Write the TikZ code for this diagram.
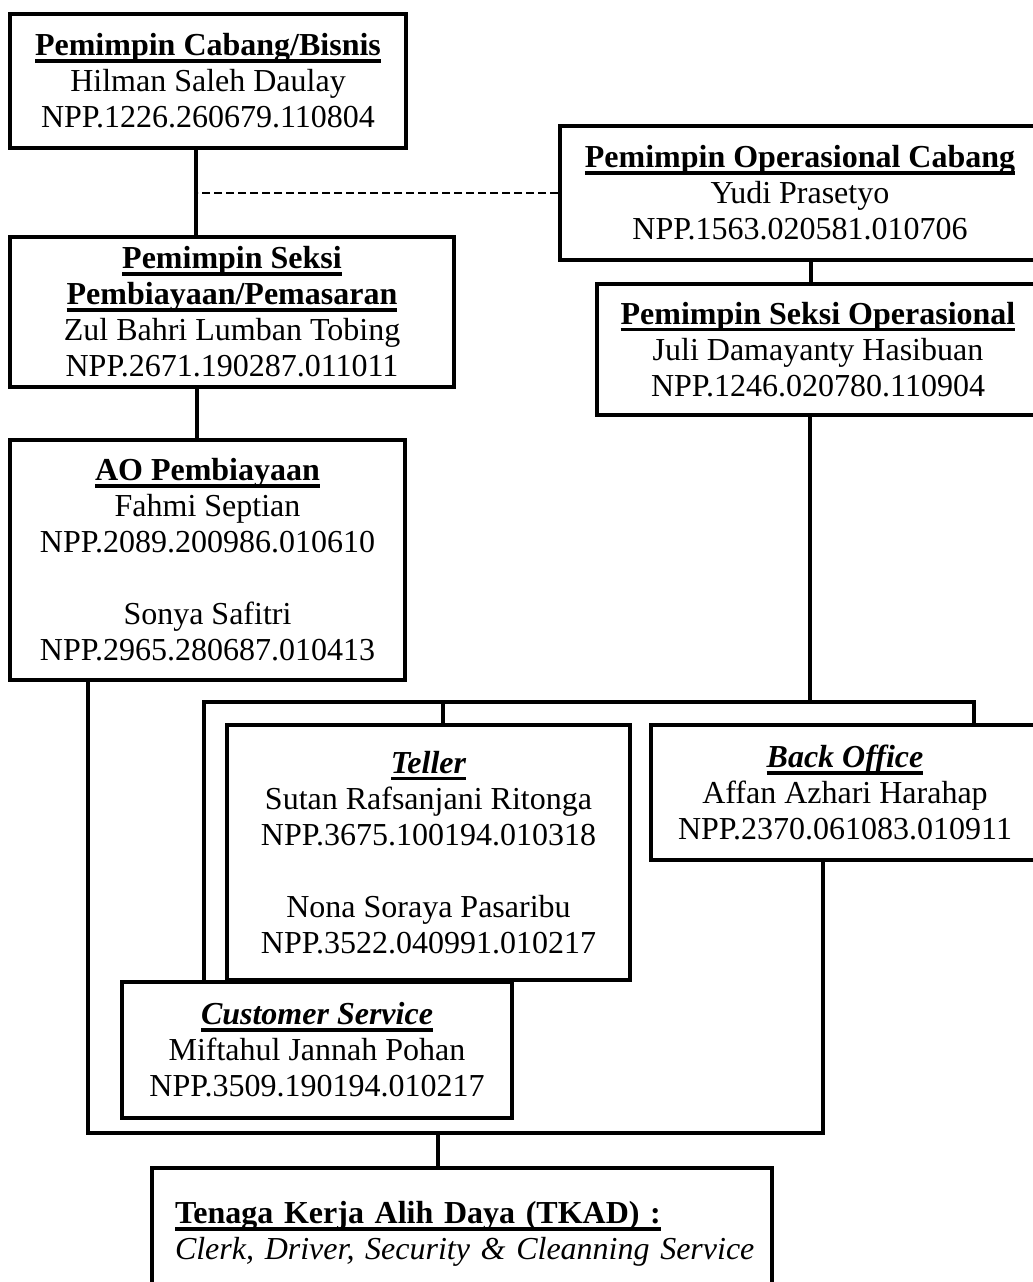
\documentclass[tikz,border=0pt]{standalone}
\usepackage{fontspec}
\setmainfont{Liberation Serif}
\usetikzlibrary{positioning,calc}
\newcommand{\ulbox}[1]{\setbox0\hbox{#1}\rlap{\rule[-7pt]{\wd0}{3.5pt}}\box0}

\begin{document}
\begin{tikzpicture}[
    x=1pt, y=-1pt,
    unit/.style={rectangle, draw, line width=4pt, inner sep=0pt, align=center, font=\fontsize{32}{36}\selectfont},
    link/.style={draw, line width=4pt, line join=miter},
    dotlink/.style={draw, dash pattern=on 8pt off 4pt, line width=1.6pt}
]
\useasboundingbox (0,0) rectangle (1033,1282);
\clip (0,0) rectangle (1033,1282);

% Pimpinan
\node[unit, minimum width=396pt, minimum height=134pt] (pcb) at (208,81)
    {\ulbox{\textbf{Pemimpin Cabang/Bisnis}}\\Hilman Saleh Daulay\\NPP.1226.260679.110804};
\node[unit, minimum width=480pt, minimum height=134pt] (poc) at (800,193)
    {\ulbox{\textbf{Pemimpin Operasional Cabang}}\\Yudi Prasetyo\\NPP.1563.020581.010706};

% Seksi
\node[unit, minimum width=444pt, minimum height=150pt] (psp) at (232,312)
    {\ulbox{\textbf{Pemimpin Seksi}}\\\ulbox{\textbf{Pembiayaan/Pemasaran}}\\Zul Bahri Lumban Tobing\\NPP.2671.190287.011011};
\node[unit, minimum width=442pt, minimum height=131pt] (pso) at (818,349.5)
    {\ulbox{\textbf{Pemimpin Seksi Operasional}}\\Juli Damayanty Hasibuan\\NPP.1246.020780.110904};

% Pelaksana
\node[unit, minimum width=395pt, minimum height=240pt] (ao) at (207.5,560)
    {\ulbox{\textbf{AO Pembiayaan}}\\Fahmi Septian\\NPP.2089.200986.010610\\[36pt]Sonya Safitri\\NPP.2965.280687.010413};
\node[unit, minimum width=403pt, minimum height=255pt] (teller) at (428.5,852.5)
    {\ulbox{\textbf{\textit{Teller}}}\\Sutan Rafsanjani Ritonga\\NPP.3675.100194.010318\\[36pt]Nona Soraya Pasaribu\\NPP.3522.040991.010217};
\node[unit, minimum width=388pt, minimum height=135pt] (bo) at (845,792.5)
    {\ulbox{\textbf{\textit{Back Office}}}\\Affan Azhari Harahap\\NPP.2370.061083.010911};
\node[unit, minimum width=390pt, minimum height=136pt] (cs) at (317,1050)
    {\ulbox{\textbf{\textit{Customer Service}}}\\Miftahul Jannah Pohan\\NPP.3509.190194.010217};
\node[unit, align=left, text width=574pt, inner xsep=23pt, minimum height=132pt] (tkad) at (462,1234)
    {\mbox{\ulbox{\textbf{Tenaga Kerja Alih Daya (TKAD) :}}}\\\mbox{\textit{Clerk, Driver, Security \& Cleanning Service}}};

% Bracket corners
\coordinate (bl) at (204,702);
\coordinate (br) at (974,702);
\coordinate (fl) at (88,1133);
\coordinate (fr) at (823,1133);

% Connectors
\path[link] ([xshift=-12pt]pcb.south) -- ([xshift=-12pt]pcb.south |- psp.north);
\path[dotlink] (poc.west) -- ([xshift=-10pt]pcb.south |- poc.west);
\path[link] ([xshift=11pt]poc.south) -- ([xshift=11pt]poc.south |- pso.north);
\path[link] ([xshift=-35pt]psp.south) -- ([xshift=-35pt]psp.south |- ao.north);

\path[link] ([xshift=-8pt]pso.south) -- ([xshift=-8pt]pso.south |- br);
\path[link] (cs.north -| bl) -- (bl) -- (br) -- (bo.north -| br);
\path[link] ([xshift=14.5pt]teller.north) -- ([xshift=14.5pt]teller.north |- bl);

\path[link] (ao.south -| fl) -- (fl) -- (fr) -- (bo.south -| fr);
\path[link] ([xshift=-24pt]tkad.north) -- ([xshift=-24pt]tkad.north |- fl);
\end{tikzpicture}
\end{document}
